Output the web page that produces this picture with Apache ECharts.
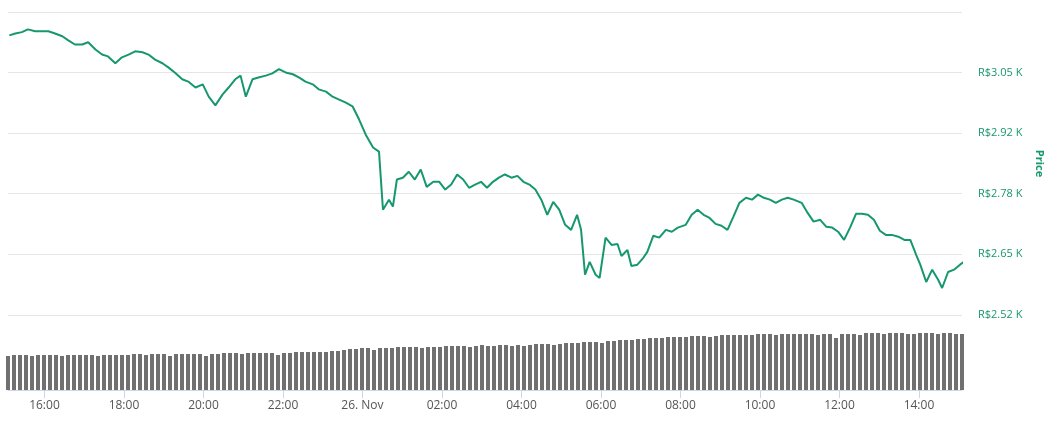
<!DOCTYPE html>
<html><head><meta charset="utf-8">
<script src="https://cdn.jsdelivr.net/npm/echarts@6/dist/echarts.min.js"></script>
<style>html,body{margin:0;padding:0;background:#fff}#c{width:1057px;height:424px}</style>
</head><body><div id="c"></div>
<script>
// estimated x positions of price samples, converted to minutes after 25 Nov 15:05
const xpos = [9,15,22,28,35,42,48,55,62,68,75,82,88,95,102,108,115,122,128,135,142,148,155,162,168,175,182,188,195,202,208,215,222,228,235,240,245,252,258,265,272,278,285,292,298,305,312,318,325,332,338,345,352,358,365,372,378,382,388,392,396,402,408,414,420,426,432,438,444,450,456,462,468,474,480,486,492,498,504,510,516,522,528,534,540,546,552,558,564,570,576,580,584,588,594,598,604,610,616,620,626,630,636,642,646,652,658,664,670,676,684,690,696,702,708,714,720,726,732,738,744,750,756,762,768,774,780,786,792,800,806,812,818,824,830,836,842,848,854,860,866,872,878,884,890,896,902,908,914,918,924,930,936,940,946,952,958,962];
const minutes = xpos.map(x => Math.round((x - 8) * 1.513));
const prices = [3.129,3.133,3.136,3.142,3.138,3.138,3.138,3.133,3.127,3.118,3.109,3.109,3.114,3.098,3.087,3.083,3.068,3.081,3.087,3.094,3.092,3.087,3.076,3.068,3.059,3.046,3.033,3.028,3.015,3.022,2.995,2.976,3.000,3.015,3.033,3.041,2.995,3.033,3.037,3.041,3.046,3.055,3.048,3.044,3.037,3.028,3.022,3.011,3.006,2.995,2.989,2.982,2.974,2.945,2.912,2.884,2.875,2.748,2.770,2.755,2.814,2.818,2.831,2.814,2.836,2.798,2.809,2.809,2.792,2.803,2.825,2.814,2.796,2.803,2.809,2.796,2.809,2.818,2.825,2.818,2.822,2.809,2.803,2.792,2.770,2.737,2.765,2.748,2.715,2.704,2.737,2.704,2.606,2.634,2.606,2.599,2.687,2.671,2.673,2.647,2.660,2.625,2.628,2.643,2.656,2.691,2.687,2.704,2.700,2.709,2.715,2.737,2.748,2.737,2.730,2.717,2.713,2.704,2.733,2.763,2.774,2.770,2.781,2.774,2.770,2.763,2.770,2.774,2.770,2.763,2.741,2.722,2.726,2.711,2.709,2.700,2.682,2.709,2.739,2.739,2.737,2.726,2.702,2.693,2.693,2.689,2.682,2.682,2.649,2.628,2.590,2.617,2.595,2.577,2.612,2.617,2.628,2.634];
const volumes = [34,35,35,35,34,35,35,35,35,34,35,35,35,35,35,34,35,35,35,35,35,36,36,35,36,36,36,34,36,36,36,36,36,34,36,36,37,37,37,36,37,37,37,37,37,35,37,37,38,38,38,38,38,38,39,39,40,41,41,42,42,40,42,42,42,43,43,43,43,42,43,43,43,44,44,44,44,43,44,45,44,44,45,45,44,45,44,45,46,46,46,45,46,47,47,47,48,48,48,47,49,49,50,50,50,51,51,52,52,52,53,53,53,53,54,54,54,53,54,55,55,55,55,55,55,56,56,56,55,56,56,56,56,56,56,55,56,56,52,56,56,56,55,57,57,57,56,57,57,57,56,56,57,57,57,56,57,57,56,56];
const tickLabels = ['16:00','18:00','20:00','22:00','26. Nov','02:00','04:00','06:00','08:00','10:00','12:00','14:00'];
// x in minutes since 25 Nov 00:00
const xStart = 15*60+5, xEnd = xStart + 1440;
const tickVals = tickLabels.map((_,i)=>960 + i*120);
const priceData = prices.map((v,i)=>[xStart+minutes[i], v]);
const vstep = 1440 / (volumes.length - 1);
const volData = volumes.map((v,i)=>[xStart+i*vstep, v]);
const green = '#16976f';
const chart = echarts.init(document.getElementById('c'));
chart.setOption({
  animation:false,
  grid:[{left:8,right:95,top:12,height:303},{left:8,right:95,top:315,height:75}],
  xAxis:[
    {type:'value',gridIndex:0,min:xStart,max:xEnd,axisLabel:{show:false},axisTick:{show:false},axisLine:{show:false},splitLine:{show:false}},
    {type:'value',gridIndex:1,min:xStart,max:xEnd,
      axisLine:{lineStyle:{color:'#ccd6eb'}},axisTick:{customValues:tickVals,lineStyle:{color:'#ccd6eb'},length:8},splitLine:{show:false},
      axisLabel:{customValues:tickVals,color:'#555',fontSize:12,fontFamily:'Open Sans',margin:10,
        formatter:function(v){const i=tickVals.indexOf(v);return i>=0?tickLabels[i]:'';}}}
  ],
  yAxis:[
    {type:'value',gridIndex:0,position:'right',min:2.518,max:3.18,interval:0.1325,
      name:'Price',nameLocation:'middle',nameGap:68,nameRotate:-90,nameTextStyle:{color:green,fontWeight:'bold',fontSize:11,fontFamily:'Open Sans'},
      axisLine:{show:false},axisTick:{show:false},
      splitLine:{lineStyle:{color:'#e6e6e6'}},
      axisLabel:{color:green,fontSize:11,fontFamily:'Open Sans',margin:16,showMaxLabel:false,formatter:v=>'R$'+v.toFixed(2)+' K'}},
    {type:'value',gridIndex:1,min:0,max:75,axisLabel:{show:false},axisLine:{show:false},axisTick:{show:false},splitLine:{show:false}}
  ],
  series:[
    {type:'line',xAxisIndex:0,yAxisIndex:0,data:priceData,showSymbol:false,lineStyle:{color:green,width:2},itemStyle:{color:green}},
    {type:'bar',xAxisIndex:1,yAxisIndex:1,data:volData,barWidth:4,itemStyle:{color:'#707070'}}
  ]
});
</script></body></html>
